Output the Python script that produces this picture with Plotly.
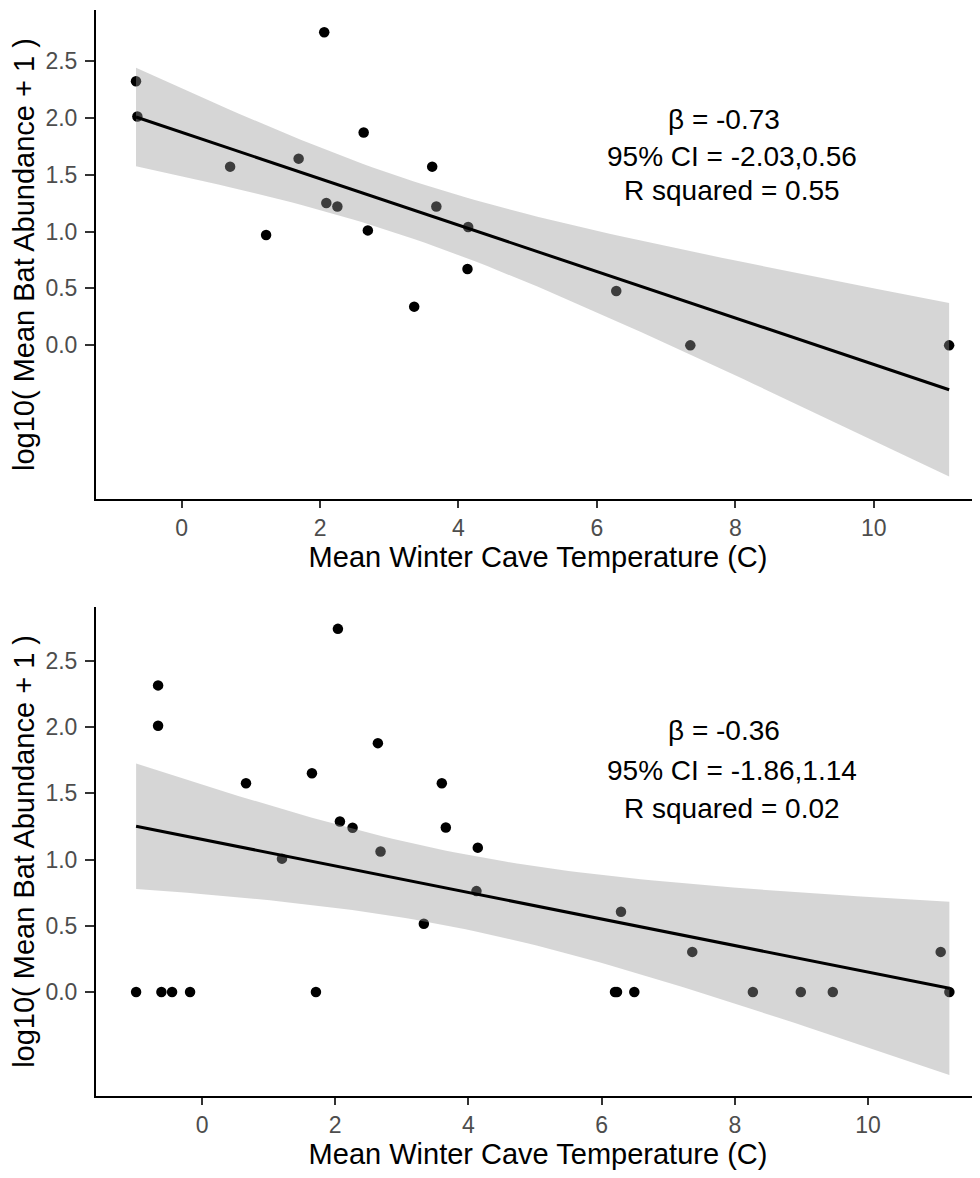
import numpy as np
import plotly.graph_objects as go

# ---- data ----
# Panel 1 (top)
temp_top = [-0.66, -0.64, 0.70, 1.22, 1.69, 2.06, 2.09, 2.25, 2.63, 2.69,
            3.36, 3.62, 3.68, 4.14, 4.13, 6.28, 7.35, 11.09]
abund_top = [2.32, 2.01, 1.57, 0.97, 1.64, 2.75, 1.25, 1.22, 1.87, 1.01,
             0.34, 1.57, 1.22, 1.04, 0.67, 0.477, 0.0, 0.0]

# Panel 2 (bottom)
temp_bot = [-0.99, -0.66, -0.66, -0.61, -0.45, -0.18, 0.66, 1.20, 1.65, 1.71,
            2.04, 2.07, 2.26, 2.64, 2.68, 3.33, 3.60, 3.66, 4.14, 4.12,
            6.20, 6.23, 6.29, 6.49, 7.36, 8.27, 8.99, 9.47, 11.09, 11.22]
abund_bot = [0.0, 2.315, 2.01, 0.0, 0.0, 0.0, 1.576, 1.007, 1.652, 0.0,
             2.742, 1.288, 1.24, 1.879, 1.061, 0.515, 1.576, 1.242, 1.09, 0.762,
             0.0, 0.0, 0.606, 0.0, 0.303, 0.0, 0.0, 0.0, 0.303, 0.0]

x_ticks = [0, 2, 4, 6, 8, 10]
y_ticks = [0.0, 0.5, 1.0, 1.5, 2.0, 2.5]

labels_top = ["\u03b2 = -0.73", "95% CI = -2.03,0.56", "R squared = 0.55"]
labels_bot = ["\u03b2 = -0.36", "95% CI = -1.86,1.14", "R squared = 0.02"]

x_title = "Mean Winter Cave Temperature (C)"
y_title = "log10( Mean Bat Abundance + 1 )"

# Student t 97.5% quantiles for the residual degrees of freedom
T975 = {16: 2.1199, 28: 2.0484}


def lm_fit(x, y):
    """Ordinary least squares fit with 95% confidence band (like geom_smooth(method='lm'))."""
    x = np.asarray(x, float)
    y = np.asarray(y, float)
    n = len(x)
    mx, my = x.mean(), y.mean()
    sxx = ((x - mx) ** 2).sum()
    b1 = ((x - mx) * (y - my)).sum() / sxx
    b0 = my - b1 * mx
    s = np.sqrt(((y - (b0 + b1 * x)) ** 2).sum() / (n - 2))
    t = T975.get(n - 2, 2.0)
    xs = np.linspace(x.min(), x.max(), 80)
    fit = b0 + b1 * xs
    se = s * np.sqrt(1.0 / n + (xs - mx) ** 2 / sxx)
    return xs, fit, fit - t * se, fit + t * se


FONT = "Liberation Sans, Arial, sans-serif"
fig = go.Figure()

panels = [(temp_top, abund_top, "x", "y"), (temp_bot, abund_bot, "x2", "y2")]
for xv, yv, xa, ya in panels:
    fig.add_trace(go.Scatter(x=xv, y=yv, mode="markers", xaxis=xa, yaxis=ya,
                             marker=dict(color="black", size=10.5),
                             showlegend=False, hoverinfo="skip"))
    xs, fit, lo, hi = lm_fit(xv, yv)
    fig.add_trace(go.Scatter(x=np.concatenate([xs, xs[::-1]]),
                             y=np.concatenate([hi, lo[::-1]]),
                             mode="lines", fill="toself", xaxis=xa, yaxis=ya,
                             fillcolor="rgba(153,153,153,0.4)",
                             line=dict(width=0), showlegend=False,
                             hoverinfo="skip"))
    fig.add_trace(go.Scatter(x=xs, y=fit, mode="lines", xaxis=xa, yaxis=ya,
                             line=dict(color="black", width=3),
                             showlegend=False, hoverinfo="skip"))

axis_common = dict(showgrid=False, zeroline=False, showline=True,
                   linecolor="black", linewidth=2, ticks="outside",
                   tickwidth=1.5, tickcolor="#333333",
                   automargin=False,
                   tickfont=dict(family=FONT, size=23, color="#4D4D4D"),
                   title_font=dict(family=FONT, size=29, color="black"))
xaxis_common = dict(axis_common, ticklen=7)
yaxis_common = dict(axis_common, ticklen=9, ticklabelstandoff=3)

# The page body has an 8px default margin, so the figure is drawn 8px in
# from the top-left corner of the window; sizes compensate for that.
fig.update_layout(
    width=972, height=1162,
    margin=dict(l=88, r=0, t=2, b=74),
    plot_bgcolor="white", paper_bgcolor="white",
    xaxis=dict(xaxis_common, domain=[0, 1], anchor="y", range=[-1.238, 11.536],
               tickvals=x_ticks, title=dict(text=x_title, standoff=4)),
    yaxis=dict(yaxis_common, domain=[0.5496, 1.0], anchor="x", range=[-1.351, 2.946],
               tickvals=y_ticks, tickformat=".1f",
               title=dict(text=y_title, standoff=5)),
    xaxis2=dict(xaxis_common, domain=[0, 1], anchor="y2", range=[-1.592, 11.68],
                tickvals=x_ticks, title=dict(text=x_title, standoff=4)),
    yaxis2=dict(yaxis_common, domain=[0.0, 0.4504], anchor="x2", range=[-0.785, 2.908],
                tickvals=y_ticks, tickformat=".1f",
                title=dict(text=y_title, standoff=5)),
)

# annotation text blocks (positions in paper coordinates; px are window coords)
def add_block(lines, xs_px, ys_px):
    for txt, xp, yp in zip(lines, xs_px, ys_px):
        fig.add_annotation(text=txt, xref="paper", yref="paper",
                           x=(xp - 96) / 884.0, y=(1096 - yp) / 1086.0,
                           xanchor="center", yanchor="middle", showarrow=False,
                           font=dict(family=FONT, size=28, color="black"))

add_block(labels_top, [724, 732, 732], [120, 156, 190])
add_block(labels_bot, [724, 732, 732], [730, 770, 808])

fig.write_html("out.html")
